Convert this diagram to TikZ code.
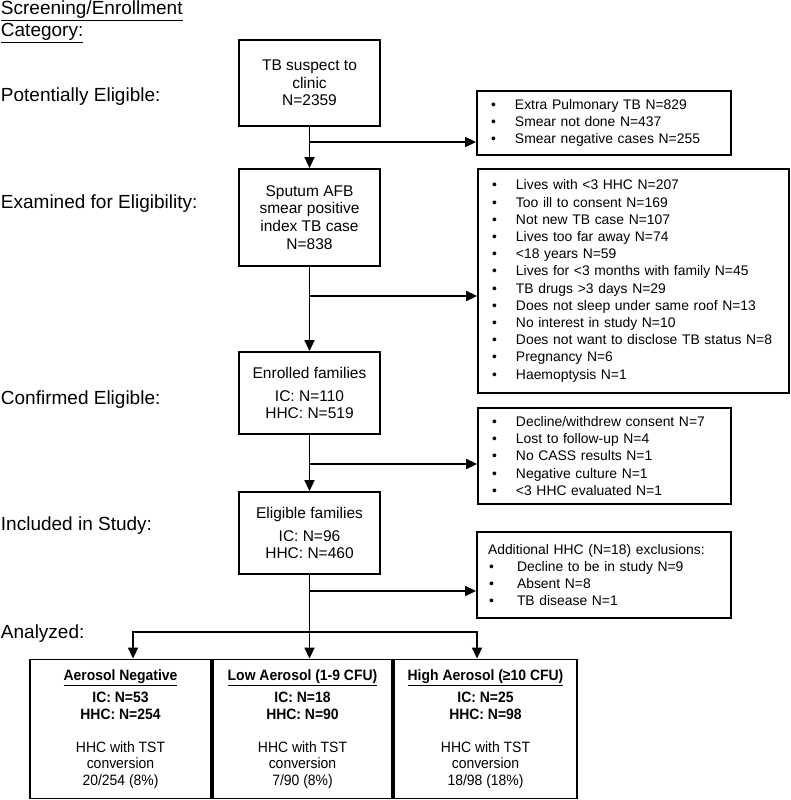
\documentclass[tikz,border=0pt]{standalone}
\usepackage{fontspec}
\setmainfont{Liberation Sans}
\newfontfamily\narrowsf[FakeStretch=0.93]{Liberation Sans}
\usetikzlibrary{arrows.meta}
\newcommand{\itm}{\noindent\hbox to 25pt{\hspace{1pt}\textbullet\hss}}
\newcommand{\itmw}{\noindent\hbox to 29pt{\hspace{1pt}\textbullet\hss}}

\begin{document}
\begin{tikzpicture}[x=1pt,y=-1pt,line width=1.9pt,
		>={Triangle[length=11pt,width=10pt]},
		cat/.style={anchor=base west,inner sep=0pt,font=\fontsize{19}{22}\selectfont},
		box/.style={draw,align=center,inner sep=0pt,minimum width=141pt,font=\fontsize{15.5}{17.7}\selectfont},
		list/.style={draw,align=left,inner xsep=13pt,inner ysep=0pt,font=\fontsize{13.9}{17.2}\selectfont},
		result/.style={draw,align=center,inner sep=0pt,minimum height=139pt,font=\narrowsf\fontsize{15}{16.5}\selectfont}]
		\useasboundingbox (0,0) rectangle (790,800);
		%% Categories
		\node[cat] (hdr) at (0,15) {\underline{Screening/Enrollment}};
		\node[cat] (hdrb) at (0,37) {\underline{Category:}};
		\node[cat] (potential) at (0,101) {Potentially Eligible:};
		\node[cat] (examined) at (0,208) {Examined for Eligibility:};
		\node[cat] (confirmed) at (0,404) {Confirmed Eligible:};
		\node[cat] (included) at (0,530) {Included in Study:};
		\node[cat] (analyzed) at (0,638) {Analyzed:};
		%% Main flow
		\node[box,minimum height=86pt] (suspect) at (309.5,83) {TB suspect to\\clinic\\N=2359};
		\node[box,minimum height=97pt] (sputum) at (309.5,217.5) {Sputum AFB\\smear positive\\index TB case\\N=838};
		\node[box,minimum height=82pt] (enrolled) at (309.5,393) {Enrolled families\\[5pt]IC: N=110\\HHC: N=519};
		\node[box,minimum height=82pt] (eligible) at (309.5,533) {Eligible families\\[5pt]IC: N=96\\HHC: N=460};
		%% Exclusions
		\node[list,text width=228pt,minimum height=64pt] (exA) at (604,123) {\itm Extra Pulmonary TB N=829\\\itm Smear not done N=437\\\itm Smear negative cases N=255};
		\node[list,text width=285pt,minimum height=224pt] (exB) at (633.5,281) {\itm Lives with <3 HHC N=207\\\itm Too ill to consent N=169\\\itm Not new TB case N=107\\\itm Lives too far away N=74\\\itm <18 years N=59\\\itm Lives for <3 months with family N=45\\\itm TB drugs >3 days N=29\\\itm Does not sleep under same roof N=13\\\itm No interest in study N=10\\\itm Does not want to disclose TB status N=8\\\itm Pregnancy N=6\\\itm Haemoptysis N=1};
		\node[list,text width=227pt,minimum height=96pt] (exC) at (604.5,456) {\itm Decline/withdrew consent N=7\\\itm Lost to follow-up N=4\\\itm No CASS results N=1\\\itm Negative culture N=1\\\itm <3 HHC evaluated N=1};
		\node[list,inner xsep=11pt,text width=232pt,minimum height=86pt] (exD) at (604,575) {Additional HHC (N=18) exclusions:\\\itmw Decline to be in study N=9\\\itmw Absent N=8\\\itmw TB disease N=1};
		%% Analyzed groups
		\node[result,minimum width=181pt] (neg) at (120.5,729) {\textbf{\underline{Aerosol Negative}}\\[5.5pt]\textbf{IC: N=53}\\\textbf{HHC: N=254}\\[16.5pt]HHC with TST\\conversion\\20/254 (8\%)};
		\node[result,minimum width=179pt] (low) at (302.5,729) {\textbf{\underline{Low Aerosol (1-9 CFU)}}\\[5.5pt]\textbf{IC: N=18}\\\textbf{HHC: N=90}\\[16.5pt]HHC with TST\\conversion\\7/90 (8\%)};
		\node[result,minimum width=183pt] (high) at (485.5,729) {\textbf{\underline{High Aerosol (≥10 CFU)}}\\[5.5pt]\textbf{IC: N=25}\\\textbf{HHC: N=98}\\[16.5pt]HHC with TST\\conversion\\18/98 (18\%)};
		%% Connectors
		\coordinate (br1) at (309.5,142);
		\coordinate (br2) at (309.5,296);
		\coordinate (br3) at (309.5,464);
		\coordinate (br4) at (309.5,591);
		\coordinate (dl) at (133,632);
		\coordinate (dr) at (477,632);
		\draw[->] (suspect) -- (sputum);
		\draw[->] (br1) -- (br1 -| exA.west);
		\draw[->] (sputum) -- (enrolled);
		\draw[->] (br2) -- (br2 -| exB.west);
		\draw[->] (enrolled) -- (eligible);
		\draw[->] (br3) -- (br3 -| exC.west);
		\draw[->] (eligible) -- (eligible.south |- low.north);
		\draw[->] (br4) -- (br4 -| exD.west);
		\draw[<->] (dl |- neg.north) -- (dl) -- (dr) -- (dr |- high.north);
	\end{tikzpicture}
\end{document}
